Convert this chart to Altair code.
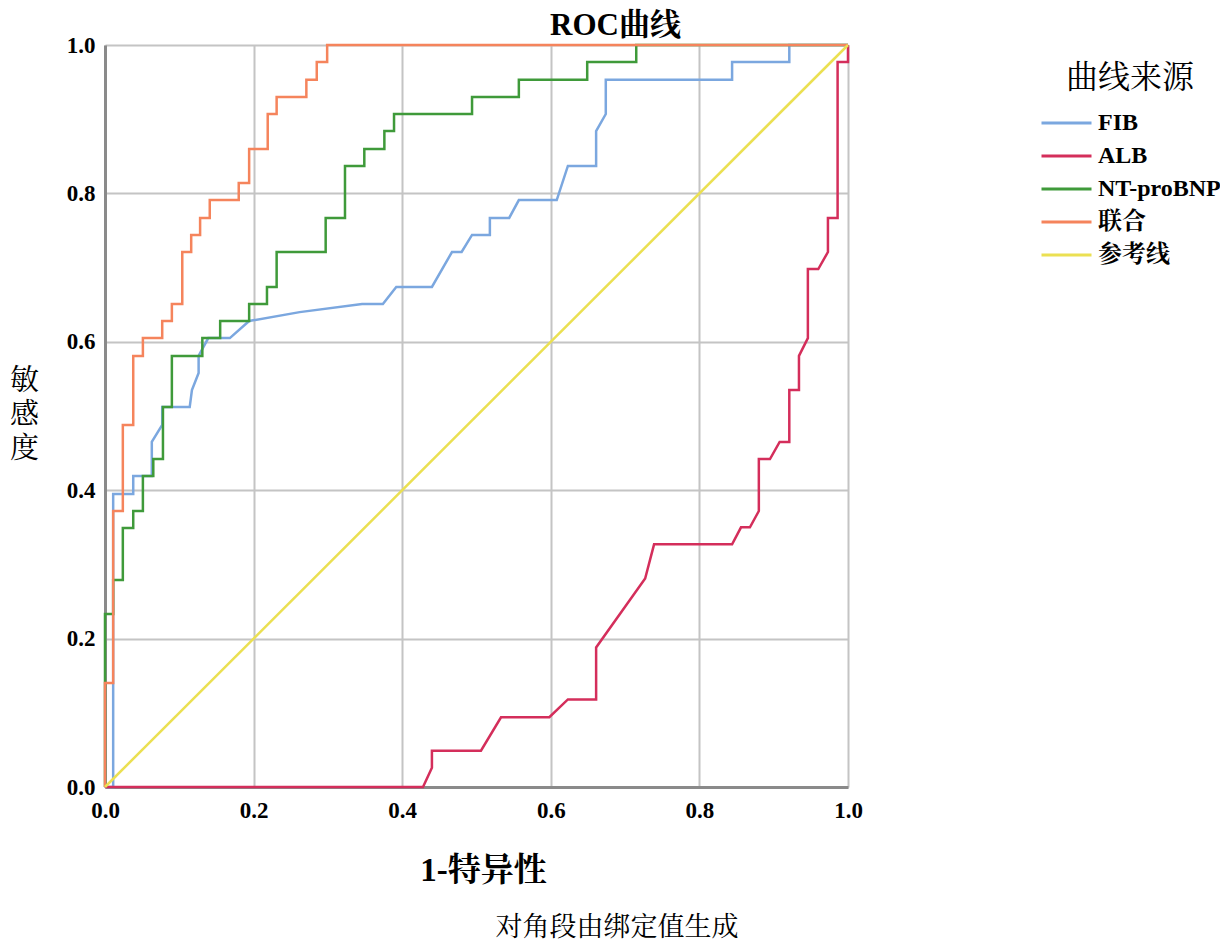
import altair as alt
import pandas as pd

# ---------------- data ----------------
series_names = ["FIB", "ALB", "NT-proBNP", "联合", "参考线"]
series_colors = ["#7BA7DF", "#D42E5B", "#3F9A3A", "#F5845C", "#EBE052"]

fib_fpr = [0, 0.011, 0.011, 0.038, 0.038, 0.063, 0.063, 0.077, 0.077, 0.114,
           0.117, 0.126, 0.126, 0.139, 0.168, 0.194, 0.262, 0.346, 0.374, 0.392,
           0.440, 0.467, 0.480, 0.494, 0.518, 0.518, 0.544, 0.557, 0.608, 0.623,
           0.661, 0.661, 0.674, 0.674, 0.844, 0.844, 0.921, 0.921, 1.0]
fib_tpr = [0, 0, 0.395, 0.395, 0.419, 0.419, 0.465, 0.488, 0.512, 0.512,
           0.535, 0.558, 0.581, 0.605, 0.605, 0.628, 0.640, 0.651, 0.651, 0.674,
           0.674, 0.721, 0.721, 0.744, 0.744, 0.767, 0.767, 0.791, 0.791, 0.837,
           0.837, 0.884, 0.907, 0.953, 0.953, 0.977, 0.977, 1.0, 1.0]

alb_fpr = [0, 0.428, 0.440, 0.440, 0.506, 0.533, 0.598, 0.623, 0.661, 0.661,
           0.727, 0.739, 0.844, 0.856, 0.868, 0.880, 0.880, 0.895, 0.908, 0.921,
           0.921, 0.934, 0.934, 0.946, 0.946, 0.960, 0.973, 0.973, 0.986, 0.986,
           1.0, 1.0]
alb_tpr = [0, 0, 0.026, 0.049, 0.049, 0.094, 0.094, 0.118, 0.118, 0.188,
           0.281, 0.327, 0.327, 0.350, 0.350, 0.372, 0.442, 0.442, 0.465, 0.465,
           0.535, 0.535, 0.581, 0.605, 0.698, 0.698, 0.721, 0.767, 0.767, 0.977,
           0.977, 1.0]

nt_fpr = [0, 0, 0.011, 0.011, 0.024, 0.024, 0.038, 0.038, 0.051, 0.051,
          0.065, 0.065, 0.078, 0.078, 0.090, 0.090, 0.131, 0.131, 0.155, 0.155,
          0.194, 0.194, 0.218, 0.218, 0.231, 0.231, 0.297, 0.297, 0.323, 0.323,
          0.349, 0.349, 0.376, 0.376, 0.389, 0.389, 0.494, 0.494, 0.557, 0.557,
          0.649, 0.649, 0.715, 0.715, 1.0]
nt_tpr = [0, 0.233, 0.233, 0.279, 0.279, 0.349, 0.349, 0.372, 0.372, 0.419,
          0.419, 0.442, 0.442, 0.512, 0.512, 0.581, 0.581, 0.605, 0.605, 0.628,
          0.628, 0.651, 0.651, 0.674, 0.674, 0.721, 0.721, 0.767, 0.767, 0.837,
          0.837, 0.860, 0.860, 0.884, 0.884, 0.907, 0.907, 0.930, 0.930, 0.953,
          0.953, 0.977, 0.977, 1.0, 1.0]

comb_fpr = [0, 0, 0.011, 0.011, 0.024, 0.024, 0.038, 0.038, 0.051, 0.051,
            0.077, 0.077, 0.090, 0.090, 0.104, 0.104, 0.116, 0.116, 0.128, 0.128,
            0.141, 0.141, 0.180, 0.180, 0.194, 0.194, 0.219, 0.219, 0.231, 0.231,
            0.271, 0.271, 0.285, 0.285, 0.299, 0.299, 1.0]
comb_tpr = [0, 0.140, 0.140, 0.372, 0.372, 0.488, 0.488, 0.581, 0.581, 0.605,
            0.605, 0.628, 0.628, 0.651, 0.651, 0.721, 0.721, 0.744, 0.744, 0.767,
            0.767, 0.791, 0.791, 0.814, 0.814, 0.860, 0.860, 0.907, 0.907, 0.930,
            0.930, 0.953, 0.953, 0.977, 0.977, 1.0, 1.0]

ref_fpr = [0, 1.0]
ref_tpr = [0, 1.0]

tick_values = [0.0, 0.2, 0.4, 0.6, 0.8, 1.0]

# ---------------- table ----------------
rows = []
for name, xs, ys in [("FIB", fib_fpr, fib_tpr), ("ALB", alb_fpr, alb_tpr),
                     ("NT-proBNP", nt_fpr, nt_tpr), ("联合", comb_fpr, comb_tpr),
                     ("参考线", ref_fpr, ref_tpr)]:
    assert len(xs) == len(ys), name
    for i, (a, b) in enumerate(zip(xs, ys)):
        rows.append({"series": name, "fpr": a, "tpr": b, "idx": i})
df = pd.DataFrame(rows)

FONT = "Liberation Serif, 'Noto Serif CJK SC', 'Noto Sans CJK SC'"

lines = alt.Chart(df).mark_line(strokeWidth=2.5).encode(
    x=alt.X("fpr:Q",
            scale=alt.Scale(domain=[0, 1], nice=False),
            axis=alt.Axis(values=tick_values, format=".1f", labelFlush=False,
                          title="1-特异性", titleX=378, titleY=83,
                          titleAlign="center", titleBaseline="middle",
                          titleFontSize=33, titleFontWeight="bold")),
    y=alt.Y("tpr:Q",
            scale=alt.Scale(domain=[0, 1], nice=False),
            axis=alt.Axis(values=tick_values, format=".1f", labelFlush=False,
                          title=["敏", "感", "度"], titleAngle=0,
                          titleX=-81, titleY=335, titleAlign="center",
                          titleBaseline="middle", titleLineHeight=34,
                          titleFontSize=29, titleFontWeight="normal")),
    color=alt.Color("series:N",
                    scale=alt.Scale(domain=series_names, range=series_colors),
                    sort=series_names,
                    legend=alt.Legend(title="曲线来源", orient="none",
                                      legendX=935, legendY=18,
                                      symbolType="stroke", symbolSize=2500,
                                      symbolStrokeWidth=3, clipHeight=24,
                                      titleFontSize=32, titleFontWeight="normal",
                                      titleAnchor="middle", titlePadding=16,
                                      labelFontSize=24, labelFontWeight="bold",
                                      rowPadding=9, labelOffset=5,
                                      padding=0)),
    order=alt.Order("idx:Q"),
)

note = alt.Chart(pd.DataFrame({"t": ["对角段由绑定值生成"]})).mark_text(
    fontSize=27, font=FONT, align="center", baseline="middle", color="black"
).encode(x=alt.value(512), y=alt.value(883), text="t:N")

chart = alt.layer(lines, note).properties(
    width=743, height=742,
    padding={"left": 97, "top": 37, "right": 372, "bottom": 162},
    autosize=alt.AutoSizeParams(type="none"),
    title=alt.TitleParams("ROC曲线", fontSize=31, fontWeight="bold", font=FONT,
                          anchor="middle", dx=139, dy=18, offset=10, color="black"),
).configure_view(strokeWidth=0).configure_axis(
    labelFont=FONT, titleFont=FONT, labelFontSize=23, labelFontWeight="bold",
    labelColor="black", titleColor="black",
    ticks=False, labelPadding=10,
    domainColor="#8a8a8a", domainWidth=3,
    gridColor="#c4c4c4", gridWidth=2,
).configure_axisX(labelPadding=12).configure_legend(
    labelFont=FONT, titleFont=FONT, labelColor="black", titleColor="black"
)

chart.save("out.html", embed_options={"renderer": "svg", "actions": False})
